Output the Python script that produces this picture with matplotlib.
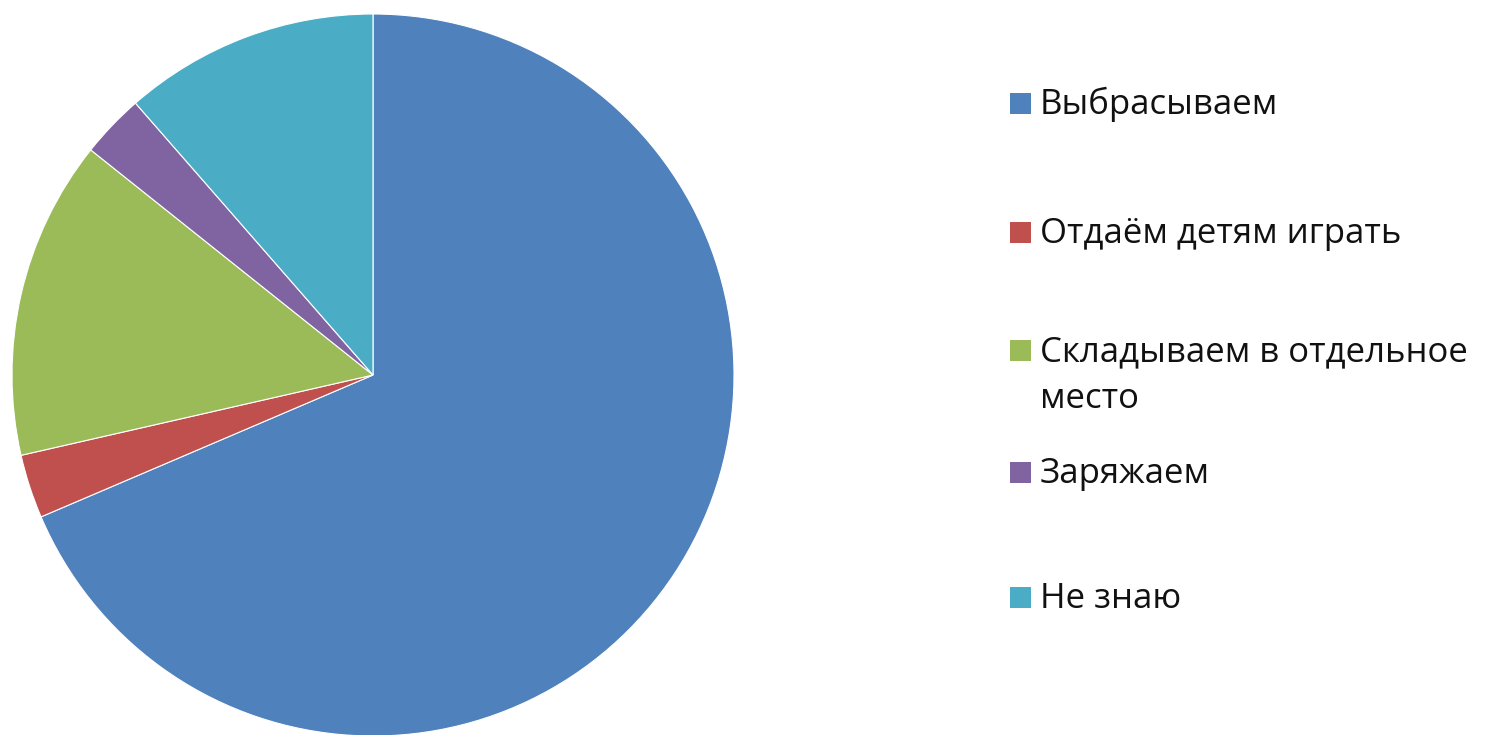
import matplotlib
matplotlib.use("Agg")
import matplotlib.pyplot as plt
from matplotlib.patches import Rectangle

# Ответы на вопрос: что делаем со старыми батарейками
labels = ["Выбрасываем", "Отдаём детям играть", "Складываем в отдельное\nместо",
          "Заряжаем", "Не знаю"]
counts = [24, 1, 5, 1, 4]
colors = ["#4F81BD", "#C0504D", "#9BBB59", "#8064A2", "#4BACC6"]

plt.rcParams["font.family"] = ["Open Sans", "DejaVu Sans"]

W, H = 1487, 735
fig = plt.figure(figsize=(W / 100, H / 100), dpi=100)

# круг: центр (373, 375), радиус 361 пиксель
cx, cy, r = 373, 375, 361
ax = fig.add_axes([(cx - r) / W, (H - cy - r) / H, 2 * r / W, 2 * r / H])
ax.pie(counts, colors=colors, startangle=90, counterclock=False,
       wedgeprops=dict(edgecolor="white", linewidth=0.8))
ax.set_xlim(-1, 1)
ax.set_ylim(-1, 1)
ax.set_aspect("equal")
ax.axis("off")

# легенда справа: квадрат + подпись, строки по базовой линии (пиксели сверху)
row_baselines = [114, 243, 361, 483, 608]
line_gap = 47
box_x, box_size, text_x = 1010, 21, 1040
for label, color, yb in zip(labels, colors, row_baselines):
    fig.add_artist(Rectangle((box_x / W, (H - yb) / H), box_size / W, box_size / H,
                             transform=fig.transFigure, facecolor=color,
                             edgecolor="none"))
    for k, line in enumerate(label.split("\n")):
        fig.text(text_x / W, (H - yb - k * line_gap) / H, line, fontsize=25,
                 color="#111111", va="baseline", ha="left")

fig.savefig("out.png", dpi=100)
